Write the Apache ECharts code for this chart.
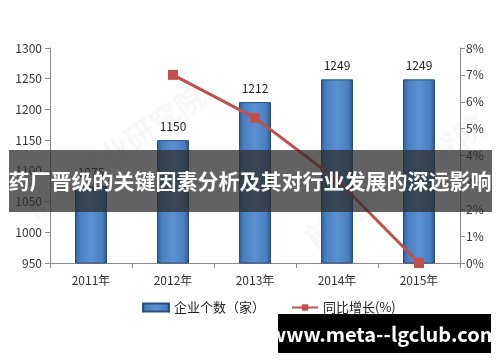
<!DOCTYPE html>
<html><head><meta charset="utf-8">
<script src="https://cdn.jsdelivr.net/npm/echarts@6/dist/echarts.min.js"></script>
<style>html,body{margin:0;padding:0;background:#fff}#c{width:500px;height:362px}</style>
</head><body><div id="c"></div>
<script>
const categories = ['2011年','2012年','2013年','2014年','2015年'];
const companyCount = [1075, 1150, 1212, 1249, 1249];
const growthRate = [null, 7.0, 5.4, 3.1, 0];
const seriesNames = ['企业个数（家）', '同比增长(%)'];
const titleText = '药厂晋级的关键因素分析及其对行业发展的深远影响';
const siteText = 'www.meta--lgclub.com';
const watermarkText = '前瞻产业研究院';

const chart = echarts.init(document.getElementById('c'));
const font = '"Microsoft YaHei","Noto Sans CJK SC",sans-serif';
chart.setOption({
  animation: false,
  textStyle: {fontFamily: font},
  grid: {left: 50, right: 40, top: 48, bottom: 99},
  legend: {
    left: 137, top: 296, itemGap: 26, itemWidth: 26, itemHeight: 8,
    textStyle: {fontSize: 13, color: '#222', fontFamily: font},
    data: [
      {name: seriesNames[0], icon: 'rect'},
      {name: seriesNames[1]}
    ]
  },
  xAxis: {
    type: 'category', data: categories,
    axisLine: {lineStyle: {color: '#8a8a8a'}},
    axisTick: {show: true, alignWithLabel: false, lineStyle: {color: '#8a8a8a'}},
    axisLabel: {color: '#333', fontSize: 12, margin: 11}
  },
  yAxis: [
    {type: 'value', min: 950, max: 1300, interval: 50,
     axisLine: {show: true, lineStyle: {color: '#8a8a8a'}},
     axisTick: {show: true, lineStyle: {color: '#8a8a8a'}},
     splitLine: {show: false},
     axisLabel: {color: '#333', fontSize: 12, margin: 8, formatter: v => String(v)}},
    {type: 'value', min: 0, max: 8, interval: 1, position: 'right',
     axisLine: {show: true, lineStyle: {color: '#8a8a8a'}},
     axisTick: {show: true, lineStyle: {color: '#8a8a8a'}},
     splitLine: {show: false},
     axisLabel: {color: '#333', fontSize: 12, margin: 6, formatter: '{value}%'}}
  ],
  series: [
    {name: seriesNames[0], type: 'bar', data: companyCount, barWidth: 32, z: 2,
     itemStyle: {
       color: new echarts.graphic.LinearGradient(0, 0, 1, 0, [
         {offset: 0, color: '#2d5d95'}, {offset: 0.15, color: '#4a7fc0'},
         {offset: 0.5, color: '#5b90d2'}, {offset: 0.85, color: '#4a7fc0'},
         {offset: 1, color: '#2a568b'}]),
       borderColor: '#2a4f80', borderWidth: 1
     },
     label: {show: true, position: 'top', color: '#222', fontSize: 12, distance: 8}},
    {name: seriesNames[1], type: 'line', yAxisIndex: 1, data: growthRate, z: 3,
     symbol: 'rect', symbolSize: 10, connectNulls: false,
     lineStyle: {color: '#c0504d', width: 3},
     itemStyle: {color: '#c0504d'}}
  ],
  graphic: [
    {type: 'text', left: 20, top: 80, rotation: 0.6, z: 0,
     style: {text: watermarkText, fill: 'rgba(150,150,150,0.07)', font: 'bold 30px ' + font}},
    {type: 'text', left: 300, top: 110, rotation: 0.6, z: 0,
     style: {text: watermarkText, fill: 'rgba(150,150,150,0.07)', font: 'bold 30px ' + font}},
    {type: 'rect', shape: {x: 9, y: 150, width: 483, height: 62}, z: 100,
     style: {fill: 'rgba(45,45,45,0.75)'}},
    {type: 'text', x: 250, y: 181, z: 101,
     style: {text: titleText, fill: '#fff', font: 'bold 21px ' + font, align: 'center', verticalAlign: 'middle'}},
    {type: 'rect', shape: {x: 278, y: 314, width: 213, height: 39}, z: 100,
     style: {fill: '#000'}},
    {type: 'text', x: 384, y: 334, z: 101,
     style: {text: siteText, fill: '#fff', font: 'bold 20px ' + font, align: 'center', verticalAlign: 'middle'}}
  ]
});
</script></body></html>
